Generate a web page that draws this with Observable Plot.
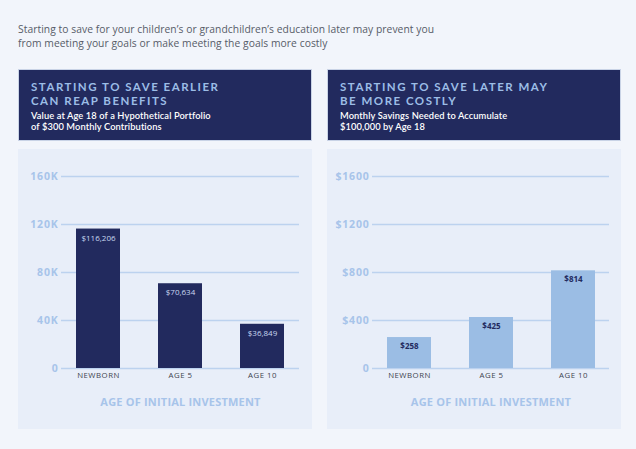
<!DOCTYPE html>
<html>
<head>
<meta charset="utf-8">
<script src="https://cdn.jsdelivr.net/npm/d3@7"></script>
<script src="https://cdn.jsdelivr.net/npm/@observablehq/plot@0.6"></script>
<style>
  html, body { margin: 0; padding: 0; }
  body { width: 636px; height: 449px; background: #f2f5fb; position: relative; overflow: hidden; font-family: "Open Sans", Lato, sans-serif; }
  #intro { position: absolute; left: 18px; top: 22px; font-size: 10.3px; line-height: 14px; color: #575c68; letter-spacing: 0.05px; }
  .panel { position: absolute; top: 69px; width: 294px; }
  .head { height: 72px; background: #222a5e; box-sizing: border-box; padding: 9.5px 0 0 12px; border: 1px solid #c9d3e6; font-family: Lato, "Open Sans", sans-serif; }
  .head .t { color: #9cbde6; font-weight: 700; font-size: 11.5px; line-height: 14px; letter-spacing: 1.5px; }
  .head .s { color: #ffffff; font-size: 9.3px; font-weight: 600; line-height: 11.2px; margin-top: 2.3px; letter-spacing: 0.1px; }
  .chart { position: absolute; top: 80px; left: 0; width: 294px; height: 280px; background: #e8eef9; }
  .chart svg [aria-label="y-axis tick label"] text { font-weight: 700; letter-spacing: 0.8px; }
  .chart svg [aria-label="x-axis tick label"] text { letter-spacing: 0.5px; }
  .chart svg [aria-label="x-axis label"] text { font-weight: 700; letter-spacing: 0.2px; }
</style>
</head>
<body>
<div id="intro">Starting to save for your children’s or grandchildren’s education later may prevent you<br>from meeting your goals or make meeting the goals more costly</div>
<div class="panel" style="left:18px">
  <div class="head"><div class="t">STARTING TO SAVE EARLIER<br>CAN REAP BENEFITS</div><div class="s">Value at Age 18 of a Hypothetical Portfolio<br>of $300 Monthly Contributions</div></div>
  <div class="chart" id="c1"></div>
</div>
<div class="panel" style="left:327px">
  <div class="head"><div class="t">STARTING TO SAVE LATER MAY<br>BE MORE COSTLY</div><div class="s">Monthly Savings Needed to Accumulate<br>$100,000 by Age 18</div></div>
  <div class="chart" id="c2"></div>
</div>
<script>
const ages = ["NEWBORN", "AGE 5", "AGE 10"];
const portfolioValues = [116206, 70634, 36849];
const monthlySavings = [258, 425, 814];
const leftTicks = [0, 40000, 80000, 120000, 160000];
const leftTickLabels = ["0", "40K", "80K", "120K", "160K"];
const rightTicks = [0, 400, 800, 1200, 1600];
const rightTickLabels = ["0", "$400", "$800", "$1200", "$1600"];
const axisTitle = "AGE OF INITIAL INVESTMENT";

const FONT = "'Open Sans', Lato, sans-serif";
const GRID = "#bcd2ef";
const AXIS_BLUE = "#a7c4ea";

function makeChart(values, ticks, tickLabels, barFill, labelFill, labelWeight, ml, mr) {
  const data = ages.map((a, i) => ({age: a, value: values[i]}));
  return Plot.plot({
    width: 294, height: 280,
    marginLeft: ml, marginRight: mr, marginTop: 27, marginBottom: 61,
    style: {background: "transparent", fontFamily: FONT, overflow: "visible"},
    x: {domain: ages, paddingInner: 0.467, paddingOuter: 0.176},
    y: {domain: [0, ticks[ticks.length - 1]]},
    marks: [
      Plot.ruleY(ticks, {stroke: GRID, strokeWidth: 1.4}),
      Plot.barY(data, {x: "age", y: "value", fill: barFill}),
      Plot.text(data, {x: "age", y: "value", text: d => "$" + d3.format(",")(d.value), dy: 9, fill: labelFill, fontSize: 8, fontWeight: labelWeight}),
      Plot.axisY({ticks: ticks, tickFormat: d => tickLabels[ticks.indexOf(d)], tickSize: 0, tickPadding: 3, label: null, fill: AXIS_BLUE, fontSize: 10.5}),
      Plot.axisX({tickSize: 0, tickPadding: 4, fill: "#3f4450", fontSize: 7.8, label: axisTitle, labelAnchor: "center", labelOffset: 37})
    ]
  });
}

document.getElementById("c1").append(makeChart(portfolioValues, leftTicks, leftTickLabels, "#222a5e", "#c9d8f0", 400, 43, 13));
document.getElementById("c2").append(makeChart(monthlySavings, rightTicks, rightTickLabels, "#9bbde4", "#222a5e", 700, 45, 12));

document.querySelectorAll('.chart svg [aria-label="x-axis label"]').forEach(g => {
  g.setAttribute("fill", AXIS_BLUE);
  g.setAttribute("font-size", "11");
});
</script>
</body>
</html>
